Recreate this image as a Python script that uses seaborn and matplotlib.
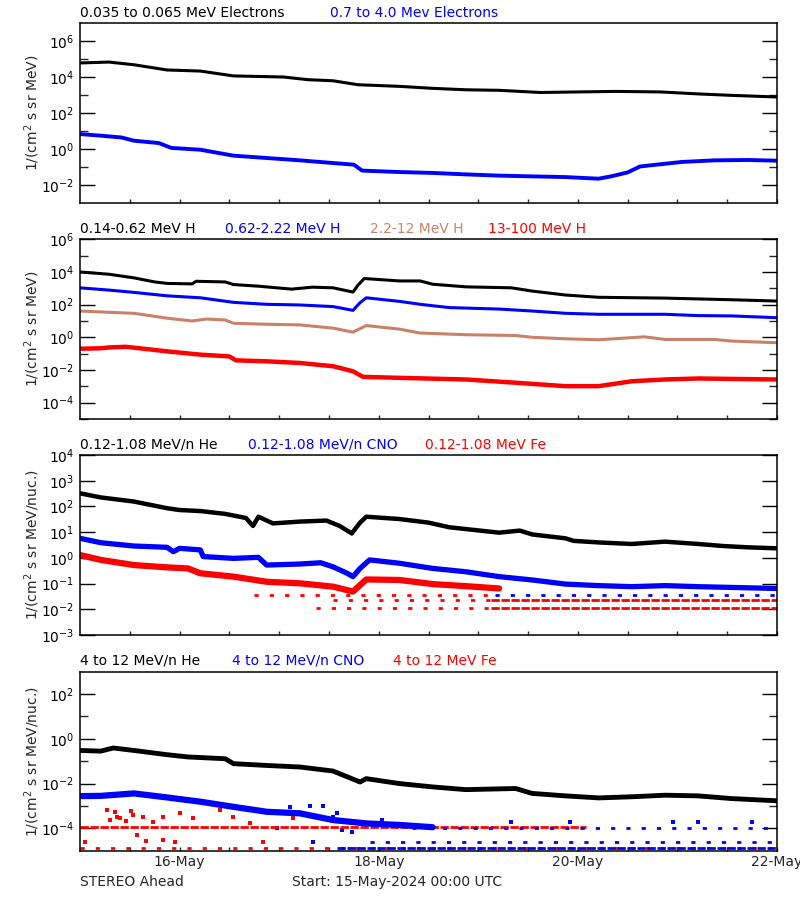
import numpy as np
import pandas as pd
import matplotlib
matplotlib.use("Agg")
import matplotlib.pyplot as plt
import seaborn as sns
from matplotlib.ticker import FixedLocator, NullFormatter

# ---------------- DATA (hours since 15-May-2024 00:00 UTC, log10 flux) ----------------
# Panel 1: electrons
e_low_hours = [0, 7, 13, 21, 29, 37, 49, 55, 61, 67, 77, 85, 93, 101, 111, 120, 129, 140, 149, 157, 168]
e_low_log = [4.78, 4.83, 4.68, 4.39, 4.33, 4.06, 4.0, 3.85, 3.79, 3.57, 3.48, 3.37, 3.29, 3.26, 3.14, 3.17,
             3.2, 3.17, 3.06, 2.98, 2.89]
e_high_hours = [0, 5, 10, 13, 19, 22, 29, 37, 45, 53, 61, 66, 68, 77, 85, 93, 101, 109, 117, 125, 128, 132,
                135, 141, 145, 153, 161, 168]
e_high_log = [0.83, 0.74, 0.64, 0.46, 0.33, 0.06, -0.04, -0.37, -0.5, -0.63, -0.78, -0.87, -1.2, -1.28, -1.33,
              -1.41, -1.48, -1.52, -1.56, -1.65, -1.52, -1.3, -0.97, -0.82, -0.72, -0.63, -0.61, -0.65]

# Panel 2: protons
h1_hours = [0, 7, 13, 18, 21, 27, 28, 35, 37, 43, 51, 56, 61, 65.8, 67, 68.5, 77, 82, 85, 93, 104, 109, 117,
            125, 141, 157, 168]
h1_log = [4.0, 3.86, 3.64, 3.39, 3.3, 3.27, 3.43, 3.39, 3.23, 3.13, 2.95, 3.07, 3.03, 2.77, 3.19, 3.6, 3.45,
          3.45, 3.25, 3.09, 3.03, 2.83, 2.59, 2.45, 2.4, 2.3, 2.22]
h2_hours = [0, 7, 13, 21, 29, 37, 45, 53, 61, 65.8, 67.5, 69, 77, 82, 89, 101, 109, 117, 125, 141, 149, 157, 168]
h2_log = [3.03, 2.89, 2.75, 2.54, 2.42, 2.14, 2.02, 1.98, 1.88, 1.65, 2.12, 2.42, 2.2, 2.02, 1.82, 1.73, 1.61,
          1.47, 1.41, 1.41, 1.33, 1.31, 1.2]
h3_hours = [0, 7, 13, 21, 27, 30.5, 35, 37, 45, 53, 61, 65.8, 69, 77, 82, 93, 105, 109, 117, 125, 136, 141,
            153, 157, 168]
h3_log = [1.61, 1.53, 1.47, 1.17, 1.0, 1.12, 1.06, 0.86, 0.8, 0.76, 0.56, 0.32, 0.72, 0.5, 0.26, 0.16, 0.11,
          0.0, -0.09, -0.15, 0.03, -0.13, -0.13, -0.23, -0.33]
h4_hours = [0, 5, 7, 11, 14, 21, 29, 36, 37.6, 45, 53, 61, 65.8, 68.2, 77, 93, 105, 117, 125, 133, 141, 149, 168]
h4_log = [-0.7, -0.67, -0.62, -0.58, -0.66, -0.86, -1.06, -1.17, -1.41, -1.47, -1.57, -1.77, -2.08, -2.42,
          -2.48, -2.58, -2.78, -2.99, -2.99, -2.69, -2.58, -2.52, -2.58]

# Panel 3: low-energy heavy ions
he3_hours = [0, 5, 13, 21, 24, 29, 35, 40, 41.7, 43, 46.5, 53, 59.4, 62.6, 65.5, 67.5, 69, 77, 84, 89, 101,
             106, 109, 117, 119, 125, 133, 141, 149, 155, 161, 168]
he3_log = [2.51, 2.35, 2.19, 1.93, 1.86, 1.82, 1.71, 1.55, 1.24, 1.6, 1.34, 1.41, 1.45, 1.24, 0.95, 1.37, 1.6,
           1.51, 1.37, 1.19, 0.98, 1.06, 0.91, 0.76, 0.66, 0.6, 0.54, 0.63, 0.54, 0.46, 0.41, 0.37]
cno3_hours = [0, 5, 13, 21, 22.5, 24, 29, 29.7, 37, 43, 45, 53, 58, 61, 64.4, 65.8, 67.5, 69.8, 77, 85, 93,
              101, 109, 117, 125, 133, 141, 149, 157, 168]
cno3_log = [0.76, 0.59, 0.46, 0.41, 0.24, 0.37, 0.31, 0.05, -0.02, 0.02, -0.28, -0.24, -0.19, -0.35, -0.6,
            -0.73, -0.41, -0.08, -0.21, -0.41, -0.54, -0.73, -0.86, -1.02, -1.08, -1.12, -1.08, -1.12, -1.15, -1.19]
fe3_hours = [0, 5, 13, 21, 26, 29, 37, 45, 53, 61, 65.8, 69, 77, 85, 93, 101]
fe3_log = [0.11, -0.08, -0.28, -0.37, -0.41, -0.6, -0.73, -0.93, -0.99, -1.12, -1.31, -0.84, -0.86, -1.02,
           -1.1, -1.19]
# quantized count levels (level, first hour, last hour)
fe3_sparse_rows = [(-1.44, 42, 100), (-1.64, 61, 99), (-1.94, 57, 99)]
fe3_dense_rows = [(-1.64, 99, 168), (-1.94, 99, 168)]
cno3_rows = [(-1.44, 100, 168)]

# Panel 4: high-energy heavy ions
he4_hours = [0, 5, 8, 13, 21, 26, 35, 37, 45, 53, 61, 67.5, 69, 77, 85, 93, 105, 109, 117, 125, 133, 141,
             149, 157, 168]
he4_log = [-0.52, -0.55, -0.41, -0.52, -0.71, -0.81, -0.89, -1.11, -1.19, -1.26, -1.44, -1.93, -1.78, -2.0,
           -2.15, -2.27, -2.22, -2.44, -2.55, -2.64, -2.59, -2.52, -2.55, -2.67, -2.77]
cno4_hours = [0, 5, 13, 21, 29, 37, 45, 53, 61, 69, 77, 85]
cno4_log = [-2.56, -2.55, -2.44, -2.62, -2.81, -3.04, -3.26, -3.33, -3.63, -3.78, -3.85, -3.95]
cno4_dot_hours = [50.6, 55.4, 58.6, 47.4, 56.2, 63.1, 65.5, 68.7, 72.7, 61, 62, 104, 118, 143, 149, 162]
cno4_dot_log = [-3.04, -3.0, -3.0, -4.0, -4.59, -4.07, -4.15, -3.78, -3.63, -3.48, -3.33, -3.71, -3.71,
                -3.71, -3.71, -3.71]
cno4_sparse_rows = [(-3.97, 80, 168), (-4.6, 70, 168)]
cno4_dense_rows = [(-4.89, 62, 168)]
fe4_dot_hours = [6.4, 8.4, 8.8, 12.4, 7.2, 9.6, 11.2, 12.8, 15.3, 17.7, 20.1, 24.1, 27.3, 13.7, 16, 20,
                 33.7, 36.9, 40.9, 44, 1.3, 23, 51.3]
fe4_dot_log = [-3.16, -3.29, -3.48, -3.23, -3.63, -3.56, -3.66, -3.41, -3.48, -3.7, -3.48, -3.33, -3.56,
               -4.3, -4.55, -4.52, -3.19, -3.48, -3.78, -4.59, -4.59, -4.59, -3.56]
fe4_dense_rows = [(-3.96, 0, 122)]
fe4_sparse_rows = [(-4.89, 0, 168)]

# Axes/labels
x_major_hours = [24, 72, 120, 168]
x_major_labels = ["16-May", "18-May", "20-May", "22-May"]
titles = [
    [("0.035 to 0.065 MeV Electrons", "black"), ("0.7 to 4.0 Mev Electrons", "blue")],
    [("0.14-0.62 MeV H", "black"), ("0.62-2.22 MeV H", "blue"), ("2.2-12 MeV H", "brown"), ("13-100 MeV H", "red")],
    [("0.12-1.08 MeV/n He", "black"), ("0.12-1.08 MeV/n CNO", "blue"), ("0.12-1.08 MeV Fe", "red")],
    [("4 to 12 MeV/n He", "black"), ("4 to 12 MeV/n CNO", "blue"), ("4 to 12 MeV Fe", "red")],
]
ylabels = ["1/(cm$^2$ s sr MeV)", "1/(cm$^2$ s sr MeV)", "1/(cm$^2$ s sr MeV/nuc.)", "1/(cm$^2$ s sr MeV/nuc.)"]

# ---------------- STYLE ----------------
sns.set_theme(style="ticks")
plt.rcParams['font.family'] = ['DejaVu Sans']
plt.rcParams['mathtext.fontset'] = 'dejavusans'
COL = {"black": "#000000", "blue": "#0000ff", "red": "#ff0000", "brown": "#c8826a"}
FS = 10
W, H = 800, 900
fig = plt.figure(figsize=(8, 9), dpi=100)

def fx(px):
    return px / W

def fy(py):
    return 1 - py / H

boxes = [(80, 23, 777, 203), (80, 239.3, 777, 419), (80, 455, 777, 635), (80, 671.7, 777, 850.7)]
ylims = [(-3, 7), (-5, 6), (-3, 4), (-5, 3)]
ymajor = [[-2, 0, 2, 4, 6], [-4, -2, 0, 2, 4, 6], [-3, -2, -1, 0, 1, 2, 3, 4], [-4, -2, 0, 2]]
yminor = [[-1, 1, 3, 5], [-5, -3, -1, 1, 3, 5], [], [-3, -1, 1]]
title_x = [[80, 330], [80, 225, 370, 488], [80, 248, 425], [80, 232, 393]]
title_y = [13, 229, 445, 661]

axes = []
for i, (l, t, r, b) in enumerate(boxes):
    ax = fig.add_axes([fx(l), fy(b), (r - l) / W, (b - t) / H])
    axes.append(ax)


def draw(ax, hours, logv, color, lw):
    df = pd.DataFrame({"hour": hours, "flux": 10.0 ** np.asarray(logv, dtype=float)})
    sns.lineplot(data=df, x="hour", y="flux", ax=ax, color=COL[color], linewidth=lw,
                 estimator=None, sort=False, legend=False)


def dots(ax, hours, logv, color):
    df = pd.DataFrame({"hour": hours, "flux": 10.0 ** np.asarray(logv, dtype=float)})
    sns.scatterplot(data=df, x="hour", y="flux", ax=ax, color=COL[color], marker="s", s=5,
                    linewidth=0, legend=False)


def rows(ax, rowlist, color, dense):
    for lev, h0, h1 in rowlist:
        df = pd.DataFrame({"hour": [h0, h1], "flux": [10.0 ** lev, 10.0 ** lev]})
        ls = (0, (3, 0.6)) if dense else (0, (1.5, 4))
        sns.lineplot(data=df, x="hour", y="flux", ax=ax, color=COL[color], linewidth=2.0,
                     linestyle=ls, estimator=None, legend=False)


# Panel 1
draw(axes[0], e_low_hours, e_low_log, "black", 2.2)
draw(axes[0], e_high_hours, e_high_log, "blue", 2.8)
# Panel 2
draw(axes[1], h1_hours, h1_log, "black", 2.2)
draw(axes[1], h2_hours, h2_log, "blue", 2.2)
draw(axes[1], h3_hours, h3_log, "brown", 2.2)
draw(axes[1], h4_hours, h4_log, "red", 3.2)
# Panel 3
rows(axes[2], fe3_sparse_rows, "red", False)
rows(axes[2], fe3_dense_rows, "red", True)
rows(axes[2], cno3_rows, "blue", False)
draw(axes[2], fe3_hours, fe3_log, "red", 4.5)
draw(axes[2], cno3_hours, cno3_log, "blue", 3.8)
draw(axes[2], he3_hours, he3_log, "black", 3.2)
# Panel 4
rows(axes[3], fe4_dense_rows, "red", True)
rows(axes[3], fe4_sparse_rows, "red", False)
rows(axes[3], cno4_sparse_rows, "blue", False)
rows(axes[3], cno4_dense_rows, "blue", True)
dots(axes[3], fe4_dot_hours, fe4_dot_log, "red")
dots(axes[3], cno4_dot_hours, cno4_dot_log, "blue")
draw(axes[3], cno4_hours, cno4_log, "blue", 4.5)
draw(axes[3], he4_hours, he4_log, "black", 3.5)

for i, ax in enumerate(axes):
    ax.set_yscale("log")
    ax.set_xlim(0, 168)
    ax.set_ylim(10.0 ** ylims[i][0], 10.0 ** ylims[i][1])
    ax.yaxis.set_major_locator(FixedLocator([10.0 ** k for k in ymajor[i]]))
    ax.yaxis.set_minor_locator(FixedLocator([10.0 ** k for k in yminor[i]]))
    ax.set_yticklabels([f"$10^{{{k}}}$" for k in ymajor[i]])
    ax.yaxis.set_minor_formatter(NullFormatter())
    ax.xaxis.set_major_locator(FixedLocator(x_major_hours))
    ax.xaxis.set_minor_locator(FixedLocator([h for h in range(12, 168, 12) if h not in x_major_hours]))
    if i == 3:
        ax.set_xticklabels(x_major_labels)
    else:
        ax.set_xticklabels([])
    ax.tick_params(axis="y", which="major", direction="in", length=11, width=1, left=True, right=True,
                   labelsize=FS, pad=4, colors="black")
    ax.tick_params(axis="y", which="minor", direction="in", length=5.5, width=1, left=True, right=True)
    ax.tick_params(axis="x", which="both", direction="in", length=3, width=1, bottom=True, top=False,
                   labelsize=FS, pad=3)
    for sp in ax.spines.values():
        sp.set_visible(True)
        sp.set_color("black")
        sp.set_linewidth(1.1)
    ax.set_xlabel("")
    ax.set_ylabel(ylabels[i], fontsize=FS)
    ax.yaxis.set_label_coords(-(80 - 42) / 697, 0.5)
    ax.set_facecolor("white")
    for (txt, c), xp in zip(titles[i], title_x[i]):
        fig.text(fx(xp), fy(title_y[i]), txt, color=COL[c], fontsize=FS, ha="left", va="center")

fig.text(fx(80), fy(882), "STEREO Ahead", fontsize=FS, ha="left", va="center")
fig.text(fx(292), fy(882), "Start: 15-May-2024 00:00 UTC", fontsize=FS, ha="left", va="center")

fig.savefig("out.png", dpi=100, facecolor="white")
